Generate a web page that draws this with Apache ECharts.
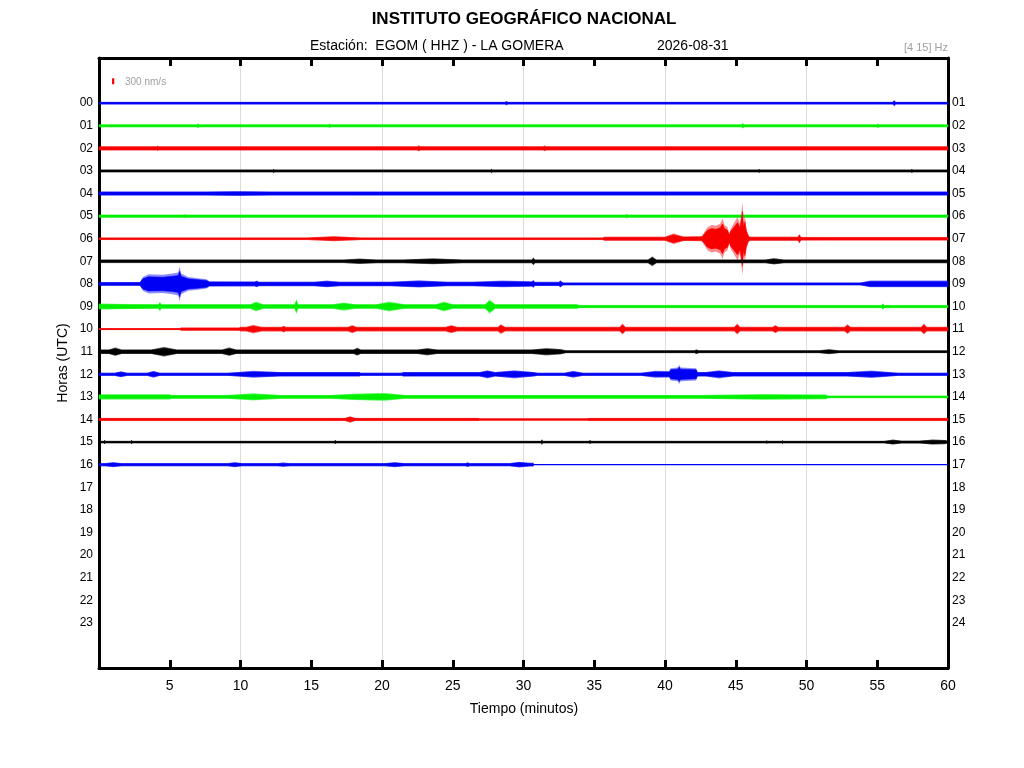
<!DOCTYPE html>
<html><head><meta charset="utf-8">
<script src="https://cdn.jsdelivr.net/npm/echarts@6/dist/echarts.min.js"></script>
<style>html,body{margin:0;padding:0;background:#fff}#c{width:1024px;height:768px}</style>
</head><body><div id="c"></div>
<script>
// ---- tick labels ----
const hourLabelsLeft = ['00','01','02','03','04','05','06','07','08','09','10','11','12','13','14','15','16','17','18','19','20','21','22','23'];
const hourLabelsRight = ['01','02','03','04','05','06','07','08','09','10','11','12','13','14','15','16','17','18','19','20','21','22','23','24'];
const minuteLabels = ['', '5','10','15','20','25','30','35','40','45','50','55','60'];
const traceColors = ['#0000f5', '#00f000', '#f80000', '#000000'];
const NM_PER_ROW = 1130;          // nm/s represented by one hour-row spacing
const scaleBarValue = 300;        // nm/s
const scaleBarAt = [1.0, -0.97];  // minute, row

// ---- envelopes: [minute, half-amplitude nm/s] ----
const env00 = [[0,55],[28.7,55],[28.8,95],[28.9,55],[56.1,55],[56.2,140],[56.3,55],[60,55]];
const env01 = [[0,60],[6.9,60],[7.0,95],[7.1,60],[16.2,60],[16.3,90],[16.4,60],[45.4,60],[45.5,120],[45.6,60],[55.0,60],[55.05,110],[55.1,60],[60,60]];
const env02 = [[0,90],[4.1,90],[4.15,130],[4.2,90],[22.5,90],[22.6,135],[22.7,90],[31.4,90],[31.5,130],[31.6,90],[60,90]];
const env03 = [[0,60],[12.3,60],[12.35,100],[12.4,60],[27.7,60],[27.75,100],[27.8,60],[46.6,60],[46.65,95],[46.7,60],[57.4,60],[57.45,100],[57.5,60],[60,60]];
const env04 = [[0,90],[7.5,90],[9.8,105],[12.1,90],[60,90]];
const env05 = [[0,65],[6.05,65],[6.1,95],[6.15,65],[37.25,65],[37.3,115],[37.35,65],[60,65]];
const env06 = [[0,50],[14.7,50],[16.6,110],[18.5,50],[35.6,50],[35.7,85],[40.0,85],[40.6,240],[41.3,100],[42.6,110],[42.8,300],[43.0,500],[43.3,600],[43.6,560],[43.9,650],[44.07,880],[44.2,600],[44.42,500],[44.54,220],[44.65,450],[44.8,600],[45.13,950],[45.3,650],[45.48,1600],[45.55,700],[45.65,1000],[45.75,450],[45.9,150],[46.0,90],[49.4,90],[49.5,220],[49.6,80],[52.4,75],[60,75]];
const env07 = [[0,75],[17.3,75],[18.4,120],[19.6,80],[21.5,80],[23.6,130],[25.7,80],[30.6,80],[30.7,180],[30.8,80],[38.8,80],[39.1,220],[39.4,80],[47.1,80],[47.7,140],[48.4,80],[60,80]];
const env08 = [[0,85],[2.9,85],[3.1,300],[3.5,420],[4.5,400],[5.2,450],[5.6,500],[5.7,750],[5.8,450],[6.3,300],[7.0,250],[7.6,200],[7.8,115],[11.0,110],[11.15,150],[11.3,100],[15.2,100],[16.1,150],[17.0,100],[20.6,100],[22.6,160],[24.6,100],[26.4,100],[28.5,145],[30.6,120],[30.7,180],[30.8,90],[32.5,90],[32.6,160],[32.8,60],[53.8,60],[54.5,150],[60,150]];
const env09 = [[0,130],[2.3,110],[4.2,100],[4.3,210],[4.4,100],[10.7,100],[11.1,220],[11.6,100],[13.85,100],[13.95,340],[14.05,100],[16.5,100],[17.3,180],[18.1,100],[19.6,100],[20.5,220],[21.6,100],[23.8,100],[24.4,220],[25.0,100],[27.3,100],[27.6,320],[28.0,100],[33.8,100],[33.9,66],[55.3,66],[55.4,140],[55.5,66],[60,66]];
const env10 = [[0,30],[5.7,30],[5.8,66],[9.9,66],[10.0,100],[10.4,100],[10.9,190],[11.5,100],[12.9,100],[13.05,150],[13.2,100],[17.6,100],[17.9,180],[18.2,100],[24.5,100],[24.9,180],[25.3,100],[28.2,100],[28.4,220],[28.7,100],[36.8,100],[37.0,250],[37.2,100],[44.9,100],[45.1,250],[45.3,100],[47.6,100],[47.8,180],[48.0,100],[52.7,100],[52.9,220],[53.1,100],[58.1,100],[58.3,250],[58.5,100],[60,100]];
const env11 = [[0,100],[0.7,100],[1.15,190],[1.6,100],[3.7,100],[4.6,220],[5.5,100],[8.7,100],[9.2,190],[9.7,100],[18.0,100],[18.25,180],[18.5,100],[22.5,100],[23.2,160],[23.9,100],[30.6,100],[31.6,160],[32.6,120],[33.0,60],[42.1,60],[42.2,100],[42.4,60],[50.9,60],[51.6,110],[52.3,55],[60,55]];
const env12 = [[0,66],[1.1,66],[1.55,130],[2.0,66],[3.4,66],[3.85,150],[4.3,66],[9.1,66],[10.9,150],[12.8,100],[18.4,100],[18.5,66],[21.4,66],[21.5,100],[26.9,100],[27.45,180],[28.0,100],[29.35,180],[30.7,100],[31.0,66],[32.9,66],[33.5,150],[34.2,66],[38.3,66],[39.3,150],[40.3,140],[40.4,265],[40.9,300],[41.0,420],[41.1,300],[42.2,265],[42.3,100],[42.9,100],[43.8,180],[44.8,100],[52.9,100],[54.6,160],[56.5,66],[60,66]];
const env13 = [[0,115],[5.0,115],[5.1,83],[9.1,83],[10.9,160],[12.8,83],[16.4,83],[18.0,140],[19.6,170],[20.3,170],[21.6,83],[42.5,83],[47.0,120],[51.4,100],[51.5,50],[60,50]];
const env14 = [[0,66],[17.4,66],[17.75,140],[18.1,66],[26.8,66],[26.9,50],[34.5,50],[34.6,66],[60,66]];
const env15 = [[0,50],[0.35,50],[0.4,100],[0.45,50],[2.25,50],[2.3,100],[2.35,50],[16.65,50],[16.7,100],[16.75,50],[31.25,50],[31.3,130],[31.35,50],[34.65,50],[34.7,100],[34.75,50],[47.15,50],[47.2,85],[47.25,50],[48.25,50],[48.3,85],[48.35,50],[55.5,50],[56.1,110],[56.7,60],[58.0,60],[58.9,110],[59.8,90],[60,50]];
const env16 = [[0,66],[0.4,66],[1.0,110],[1.6,66],[9.1,66],[9.6,110],[10.1,66],[12.6,66],[13.0,90],[13.5,66],[20.2,66],[20.9,110],[21.6,66],[25.9,66],[26.05,105],[26.2,66],[29.0,66],[29.7,125],[30.4,80],[30.7,80]];

const envelopes = [env00,env01,env02,env03,env04,env05,env06,env07,env08,env09,env10,env11,env12,env13,env14,env15,env16];

const FONT = '"Liberation Sans", Arial, Helvetica, sans-serif';
const chart = echarts.init(document.getElementById('c'), null, {renderer:'canvas'});

function renderTrace(params, api) {
  const row = api.value(1);
  const env = envelopes[row];
  const color = traceColors[row % 4];
  const band = k => {
    const up = env.map(p => api.coord([p[0], row - k * p[1] / NM_PER_ROW]));
    const dn = env.slice().reverse().map(p => api.coord([p[0], row + k * p[1] / NM_PER_ROW]));
    return up.concat(dn);
  };
  const base = [api.coord([0, row]), api.coord([60, row])];
  return {
    type: 'group',
    children: [
      {type: 'polyline', shape: {points: base}, style: {stroke: color, lineWidth: 1.2, fill: null}},
      {type: 'polygon', shape: {points: band(1.15)}, style: {fill: color, opacity: 0.45, lineWidth: 0}},
      {type: 'polygon', shape: {points: band(0.85)}, style: {fill: color, stroke: color, lineWidth: 0.5}}
    ]
  };
}

function renderScale(params, api) {
  const m = api.value(0), r = api.value(1);
  const h = scaleBarValue / NM_PER_ROW / 2;
  const p1 = api.coord([m, r - h]), p2 = api.coord([m, r + h]);
  return {type: 'line', shape: {x1: p1[0], y1: p1[1], x2: p2[0], y2: p2[1]}, style: {stroke: '#ff0000', lineWidth: 2.2}};
}

const frameLine = {show: true, onZero: false, lineStyle: {color: '#000', width: 3}};
const yBase = {
  type: 'value', min: -2, max: 25, interval: 1, inverse: true,
  axisLine: frameLine, axisTick: {show: false}, splitLine: {show: false}
};
const tickStyle = {show: true, inside: true, length: 8, lineStyle: {color: '#000', width: 3}};

chart.setOption({
  animation: false,
  backgroundColor: '#fff',
  grid: {left: 99, right: 76, top: 58, bottom: 100, show: false},
  xAxis: [
    {type: 'value', min: 0, max: 60, interval: 10, position: 'bottom',
     axisLine: {show: false, onZero: false}, axisTick: {show: false}, axisLabel: {show: false},
     splitLine: {show: true, lineStyle: {color: '#dcdcdc', width: 1}}},
    {type: 'value', min: 0, max: 60, interval: 5, position: 'bottom',
     axisLine: frameLine, splitLine: {show: false}, axisTick: tickStyle,
     axisLabel: {fontSize: 14, color: '#000', fontFamily: FONT, margin: 11,
       formatter: v => minuteLabels[Math.round(v / 5)] || ''}},
    {type: 'value', min: 0, max: 60, interval: 5, position: 'top',
     axisLine: frameLine, splitLine: {show: false}, axisLabel: {show: false}, axisTick: tickStyle}
  ],
  yAxis: [
    Object.assign({}, yBase, {position: 'left',
      axisLabel: {fontSize: 12, color: '#000', fontFamily: FONT, margin: 6,
        formatter: v => (v >= 0 && v <= 23) ? hourLabelsLeft[v] : ''}}),
    Object.assign({}, yBase, {position: 'right',
      axisLabel: {fontSize: 12, color: '#000', fontFamily: FONT, margin: 4,
        formatter: v => (v >= 0 && v <= 23) ? hourLabelsRight[v] : ''}})
  ],
  series: [
    {type: 'custom', xAxisIndex: 0, yAxisIndex: 0, renderItem: renderTrace,
     encode: {x: 0, y: 1}, clip: false,
     data: envelopes.map((e, i) => [0, i])},
    {type: 'custom', xAxisIndex: 0, yAxisIndex: 0, renderItem: renderScale,
     encode: {x: 0, y: 1}, data: [scaleBarAt]}
  ],
  graphic: [
    {type: 'text', x: 524, y: 19, style: {text: 'INSTITUTO GEOGRÁFICO NACIONAL', font: 'bold 17px ' + FONT, fill: '#000', textAlign: 'center', textVerticalAlign: 'middle'}},
    {type: 'text', x: 310, y: 46, style: {text: 'Estación:  EGOM ( HHZ ) - LA GOMERA', font: '14px ' + FONT, fill: '#000', textAlign: 'left', textVerticalAlign: 'middle'}},
    {type: 'text', x: 657, y: 46, style: {text: '2026-08-31', font: '14px ' + FONT, fill: '#000', textAlign: 'left', textVerticalAlign: 'middle'}},
    {type: 'text', x: 948, y: 48, style: {text: '[4 15] Hz', font: '11px ' + FONT, fill: '#a0a0a0', textAlign: 'right', textVerticalAlign: 'middle'}},
    {type: 'text', x: 125, y: 82, style: {text: '300 nm/s', font: '10px ' + FONT, fill: '#a0a0a0', textAlign: 'left', textVerticalAlign: 'middle'}},
    {type: 'text', x: 524, y: 709, style: {text: 'Tiempo (minutos)', font: '14px ' + FONT, fill: '#000', textAlign: 'center', textVerticalAlign: 'middle'}},
    {type: 'text', x: 63, y: 363, rotation: Math.PI / 2, style: {text: 'Horas (UTC)', font: '14px ' + FONT, fill: '#000', textAlign: 'center', textVerticalAlign: 'middle'}}
  ]
});
</script>
</body></html>
